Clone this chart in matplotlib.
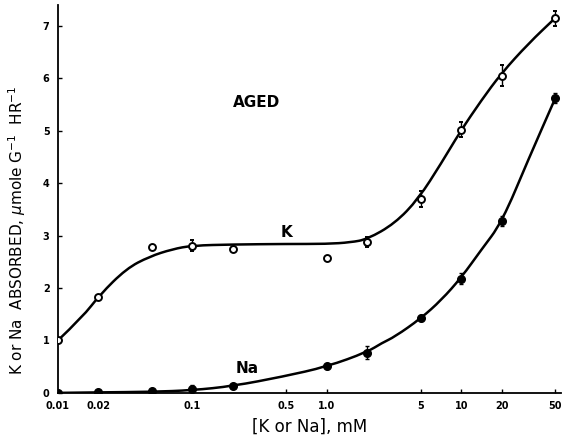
import matplotlib
matplotlib.use("Agg")
import matplotlib.pyplot as plt
from matplotlib.path import Path
from matplotlib.patches import PathPatch

# measured points
conc = [0.01, 0.02, 0.05, 0.1, 0.2, 1.0, 2.0, 5.0, 10.0, 20.0, 50.0]
k_abs = [1.0, 1.83, 2.78, 2.81, 2.74, 2.57, 2.88, 3.70, 5.02, 6.05, 7.14]
k_err = [0, 0, 0, 0.1, 0.05, 0, 0.1, 0.15, 0.15, 0.2, 0.15]
na_abs = [0.0, 0.02, 0.03, 0.08, 0.14, 0.51, 0.77, 1.43, 2.18, 3.28, 5.62]
na_err = [0, 0, 0, 0.07, 0, 0.05, 0.12, 0.05, 0.1, 0.1, 0.1]

# hand-drawn fitted curves
k_curve_x = [0.01, 0.0153, 0.0205, 0.0323, 0.048, 0.071, 0.1, 0.2, 0.5, 1.0,
             1.5, 2.0, 3.2, 4.8, 7.1, 9.8, 14.1, 19.8, 31.5, 50.0]
k_curve_y = [1.0, 1.45, 1.87, 2.37, 2.6, 2.74, 2.81, 2.83, 2.84, 2.84,
             2.87, 2.93, 3.23, 3.7, 4.38, 4.98, 5.58, 6.09, 6.66, 7.15]
na_curve_x = [0.01, 0.02, 0.05, 0.1, 0.2, 0.47, 1.0, 2.0, 2.56, 3.2, 5.0,
              7.1, 10.0, 14.0, 20.0, 31.5, 50.0]
na_curve_y = [0.0, 0.01, 0.02, 0.05, 0.13, 0.31, 0.5, 0.78, 0.95, 1.07, 1.42,
              1.77, 2.2, 2.72, 3.25, 4.45, 5.62]

xticks = [0.01, 0.02, 0.1, 0.5, 1.0, 5, 10, 20, 50]
xticklabels = ["0.01", "0.02", "0.1", "0.5", "1.0", "5", "10", "20", "50"]


def smooth_path(xs, ys):
    # quadratic bezier through the traced points (midpoints taken in log x)
    verts = [(xs[0], ys[0])]
    codes = [Path.MOVETO]
    for i in range(1, len(xs) - 1):
        mx = (xs[i] * xs[i + 1]) ** 0.5
        my = (ys[i] + ys[i + 1]) / 2
        verts += [(xs[i], ys[i]), (mx, my)]
        codes += [Path.CURVE3, Path.CURVE3]
    verts.append((xs[-1], ys[-1]))
    codes.append(Path.LINETO)
    return Path(verts, codes)


fig = plt.figure(figsize=(5.62, 4.38), dpi=100)
ax = fig.add_axes([0.103, 0.103, 0.895, 0.886])

for cx, cy in [(k_curve_x, k_curve_y), (na_curve_x, na_curve_y)]:
    ax.add_patch(PathPatch(smooth_path(cx, cy), fill=False, edgecolor="black",
                           lw=1.8, zorder=2))

ax.errorbar(conc, k_abs, yerr=k_err, fmt="o", ms=5, mfc="white", mec="black",
            mew=1.4, ecolor="black", elinewidth=1, capsize=1.5, zorder=3)
ax.errorbar(conc, na_abs, yerr=na_err, fmt="o", ms=5.5, mfc="black", mec="black",
            ecolor="black", elinewidth=1, capsize=1.5, zorder=3)

ax.set_xscale("log")
ax.set_xlim(0.01, 55)
ax.set_ylim(0, 7.4)
ax.set_xticks(xticks)
ax.set_xticklabels(xticklabels)
ax.minorticks_off()
ax.set_yticks(range(8))
ax.tick_params(direction="in", length=3, width=1, labelsize=7, pad=6)
for lab in ax.get_xticklabels() + ax.get_yticklabels():
    lab.set_fontweight("bold")

for side in ["top", "right"]:
    ax.spines[side].set_visible(False)
ax.spines["left"].set_linewidth(1.3)
ax.spines["bottom"].set_linewidth(1.3)

ax.set_xlabel("[K or Na], mM", fontsize=12, labelpad=5)
ax.set_ylabel(r"K or Na  ABSORBED, $\mu$mole G$^{-1}$  HR$^{-1}$", fontsize=11)
ax.yaxis.set_label_coords(-0.06, 0.42)

ax.text(0.2, 5.45, "AGED", fontsize=11, fontweight="bold")
ax.text(0.45, 2.97, "K", fontsize=11, fontweight="bold")
ax.text(0.21, 0.38, "Na", fontsize=11, fontweight="bold")

fig.savefig("out.png", dpi=100)
